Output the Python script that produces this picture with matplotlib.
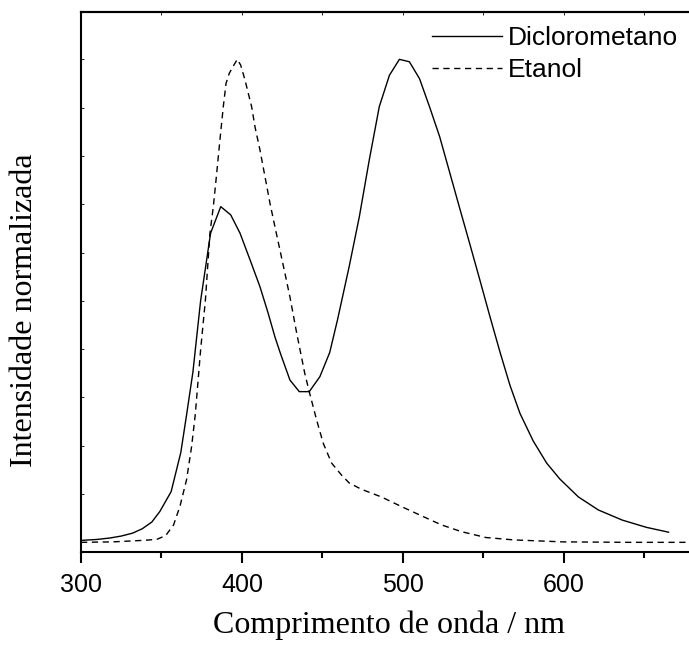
import matplotlib
matplotlib.use("Agg")
import matplotlib.pyplot as plt
from matplotlib.ticker import MultipleLocator

# Data
dcm_wl = [300, 310, 318, 325, 332, 338, 344, 349, 356, 362, 365.5, 369.5, 374.3,
          380.5, 386.8, 393.0, 398.8, 405.0, 411.2, 416.3, 420.5, 424.0, 429.8,
          435.6, 441.8, 448.4, 454.5, 459.3, 466.6, 472.9, 479.1, 485.3, 491.6,
          497.8, 504.0, 510.3, 516.5, 522.8, 530.2, 535.4, 541.6, 547.8, 554.0,
          560.2, 566.5, 572.7, 580.9, 589.3, 597.5, 609.0, 621.4, 636.3, 651.3,
          665.0]
dcm_int = [0.004, 0.006, 0.009, 0.013, 0.019, 0.028, 0.042, 0.064, 0.105, 0.186,
           0.262, 0.352, 0.500, 0.640, 0.695, 0.678, 0.640, 0.585, 0.529, 0.474,
           0.425, 0.390, 0.336, 0.312, 0.312, 0.343, 0.393, 0.460, 0.571, 0.674,
           0.792, 0.902, 0.967, 1.000, 0.995, 0.960, 0.902, 0.840, 0.752, 0.690,
           0.617, 0.543, 0.468, 0.395, 0.325, 0.267, 0.210, 0.164, 0.131, 0.094,
           0.067, 0.046, 0.031, 0.021]

eta_wl = [300, 320, 338, 347, 352.6, 357.5, 361.5, 365.6, 368.7, 371.0, 374.3,
          377.3, 380.1, 382.2, 384.3, 386.3, 388.4, 390.1, 392.1, 394.6, 397.1,
          399.2, 401.9, 403.9, 406.0, 408.1, 411.2, 414.3, 417.4, 420.5, 423.6,
          426.7, 429.8, 434.0, 439.0, 442.1, 446.4, 450.5, 455.7, 461.9, 466.6,
          474.1, 486.6, 499.1, 511.5, 524.0, 536.5, 551.5, 569.0, 599.0, 640.0,
          680.0]
eta_int = [0.000, 0.001, 0.004, 0.006, 0.014, 0.036, 0.075, 0.130, 0.198, 0.265,
           0.398, 0.502, 0.640, 0.695, 0.764, 0.833, 0.902, 0.950, 0.971, 0.986,
           1.000, 0.988, 0.957, 0.930, 0.902, 0.860, 0.812, 0.757, 0.702, 0.653,
           0.605, 0.557, 0.508, 0.433, 0.350, 0.308, 0.253, 0.205, 0.164, 0.139,
           0.123, 0.110, 0.094, 0.074, 0.055, 0.036, 0.022, 0.010, 0.005, 0.001,
           0.000, 0.000]

labels = ["Diclorometano", "Etanol"]
xticks = [300, 400, 500, 600]

W, H = 689, 645
fig = plt.figure(figsize=(W / 100, H / 100), dpi=100)
ax = fig.add_axes([81 / W, (H - 552) / H, (W - 81) / W + 0.01, (552 - 12) / H])

sans = ["Liberation Sans", "DejaVu Sans"]
serif = ["Liberation Serif", "DejaVu Serif"]

ax.plot(dcm_wl, dcm_int, color="black", lw=1.0, label=labels[0])
ax.plot(eta_wl, eta_int, color="black", lw=1.0, linestyle=(0, (4.5, 3.3)),
        label=labels[1])

ax.set_xlim(300, 300 + (W + 7 - 81) / 1.61)
ax.set_ylim(-0.02, 1.098)

for s in ax.spines.values():
    s.set_linewidth(1.5)
ax.spines["right"].set_visible(False)

ax.set_xticks(xticks)
ax.xaxis.set_minor_locator(MultipleLocator(50))
ax.tick_params(axis="x", which="major", direction="out", length=8, width=1.5,
               pad=7, labelsize=18, top=False)
ax.tick_params(axis="x", which="minor", direction="out", length=4.3, width=1.5,
               top=False)
for t in ax.get_xticklabels():
    t.set_family(sans)

# top inner ticks via secondary axis
sec = ax.secondary_xaxis("top")
sec.set_xticks(list(range(300, 700, 50)))
sec.tick_params(direction="in", length=2.5, width=0.6, labeltop=False)
sec.spines["top"].set_linewidth(1.5)

ax.yaxis.set_major_locator(MultipleLocator(0.1))
ax.tick_params(axis="y", which="major", direction="in", length=2.5, width=0.6,
               labelleft=False)

leg = ax.legend(loc="upper left", bbox_to_anchor=(432 / W, 1 - 26 / H),
                bbox_transform=fig.transFigure, frameon=False,
                prop={"family": sans, "size": 19}, handlelength=2.65,
                handletextpad=0.22, labelspacing=0.3, borderpad=0,
                borderaxespad=0)

fig.text(389 / W, (H - 633) / H, "Comprimento de onda / nm", family=serif,
         fontsize=23, ha="center", va="baseline")
fig.text(25 / W, (H - 310) / H, "Intensidade normalizada", family=serif,
         fontsize=23, ha="center", va="center", rotation=90)

fig.savefig("out.png", dpi=100)
